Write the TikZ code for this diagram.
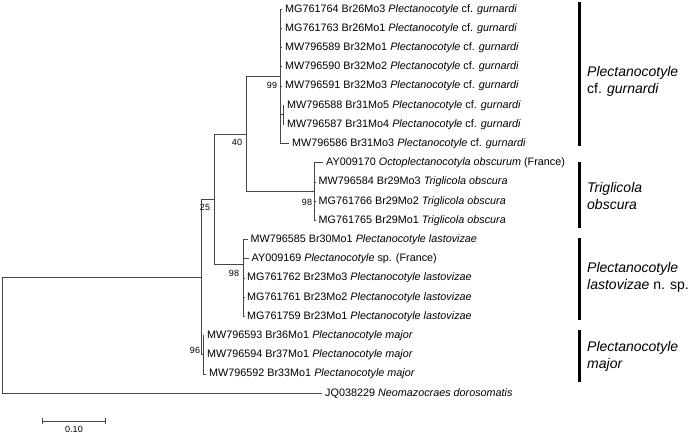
\documentclass[tikz,border=0pt]{standalone}
\usepackage{fontspec}
\setmainfont{Liberation Sans}
\definecolor{treegray}{RGB}{70,70,70}
\begin{document}
\begin{tikzpicture}[x=1pt,y=-1pt,
  br/.style={draw=treegray, line width=0.85pt},
  leaf/.style={anchor=west, inner xsep=3pt, inner ysep=0pt, font=\fontsize{10.8}{12}\selectfont},
  sup/.style={font=\fontsize{9}{10}\selectfont, inner sep=0pt},
  cbar/.style={line width=3pt, draw=black},
  clab/.style={anchor=west, align=left, inner sep=0pt, font=\fontsize{14}{17}\selectfont}]
\useasboundingbox (0,0) rectangle (688,435);

% internal nodes
\coordinate (root) at (2,335);
\coordinate (in) at (201,277);
\coordinate (n25) at (214,199);
\coordinate (n40) at (246,134.1);
\coordinate (ng) at (280,76.5);
\coordinate (ng2) at (283,114.9);
\coordinate (nt) at (314,191.7);
\coordinate (nl) at (243.7,264);
\coordinate (nm) at (203,354.9);

% leaves
\node[leaf] (l1) at (282,9.3) {MG761764 Br26Mo3 \textit{Plectanocotyle} cf. \textit{gurnardi}};
\node[leaf] (l2) at (282,28.5) {MG761763 Br26Mo1 \textit{Plectanocotyle} cf. \textit{gurnardi}};
\node[leaf] (l3) at (282,47.7) {MW796589 Br32Mo1 \textit{Plectanocotyle} cf. \textit{gurnardi}};
\node[leaf] (l4) at (282,66.9) {MW796590 Br32Mo2 \textit{Plectanocotyle} cf. \textit{gurnardi}};
\node[leaf] (l5) at (282,86.1) {MW796591 Br32Mo3 \textit{Plectanocotyle} cf. \textit{gurnardi}};
\node[leaf] (l6) at (284,105.3) {MW796588 Br31Mo5 \textit{Plectanocotyle} cf. \textit{gurnardi}};
\node[leaf] (l7) at (284,124.5) {MW796587 Br31Mo4 \textit{Plectanocotyle} cf. \textit{gurnardi}};
\node[leaf] (l8) at (289,143.7) {MW796586 Br31Mo3 \textit{Plectanocotyle} cf. \textit{gurnardi}};
\node[leaf] (l9) at (323,162.9) {AY009170 \textit{Octoplectanocotyla obscurum} (France)};
\node[leaf] (l10) at (315.5,182.1) {MW796584 Br29Mo3 \textit{Triglicola obscura}};
\node[leaf] (l11) at (315.5,201.3) {MG761766 Br29Mo2 \textit{Triglicola obscura}};
\node[leaf] (l12) at (315.5,220.5) {MG761765 Br29Mo1 \textit{Triglicola obscura}};
\node[leaf] (l13) at (247.5,239.7) {MW796585 Br30Mo1 \textit{Plectanocotyle lastovizae}};
\node[leaf] (l14) at (248.5,258.9) {AY009169 \textit{Plectanocotyle} sp. (France)};
\node[leaf] (l15) at (244,278.1) {MG761762 Br23Mo3 \textit{Plectanocotyle lastovizae}};
\node[leaf] (l16) at (244,297.3) {MG761761 Br23Mo2 \textit{Plectanocotyle lastovizae}};
\node[leaf] (l17) at (244,316.5) {MG761759 Br23Mo1 \textit{Plectanocotyle lastovizae}};
\node[leaf] (l18) at (204,335.7) {MW796593 Br36Mo1 \textit{Plectanocotyle major}};
\node[leaf] (l19) at (204,354.9) {MW796594 Br37Mo1 \textit{Plectanocotyle major}};
\node[leaf] (l20) at (206,374.1) {MW796592 Br33Mo1 \textit{Plectanocotyle major}};
\node[leaf] (l21) at (322,393.3) {JQ038229 \textit{Neomazocraes dorosomatis}};

% branches
\draw[br] (root) |- (in);
\draw[br] (root) |- (l21.west);
\draw[br] (in) |- (n25);
\draw[br] (in) |- (nm);
\draw[br] (n25) |- (n40);
\draw[br] (n25) |- (nl);
\draw[br] (n40) |- (ng);
\draw[br] (n40) |- (nt);
\foreach \i in {1,...,5} {\draw[br] (ng) |- (l\i.west);}
\draw[br] (ng) |- (ng2);
\draw[br] (ng) |- (l8.west);
\draw[br] (ng2) |- (l6.west);
\draw[br] (ng2) |- (l7.west);
\foreach \i in {9,...,12} {\draw[br] (nt) |- (l\i.west);}
\foreach \i in {13,...,17} {\draw[br] (nl) |- (l\i.west);}
\foreach \i in {18,...,20} {\draw[br] (nm) |- (l\i.west);}

% support values
\node[sup] (s99) at (272,85.5) {99};
\node[sup] (s40) at (237,142) {40};
\node[sup] (s98a) at (307,202) {98};
\node[sup] (s25) at (205,207) {25};
\node[sup] (s98b) at (234,273) {98};
\node[sup] (s96) at (195,350) {96};

% clade bars
\coordinate (g1) at (579,2);   \coordinate (g2) at (579,146);
\coordinate (t1) at (579,162); \coordinate (t2) at (579,228);
\coordinate (p1) at (579,238); \coordinate (p2) at (579,320);
\coordinate (m1) at (579,330); \coordinate (m2) at (579,382);
\draw[cbar] (g1) -- (g2);
\draw[cbar] (t1) -- (t2);
\draw[cbar] (p1) -- (p2);
\draw[cbar] (m1) -- (m2);
\node[clab] (cg) at (587,81) {\textit{Plectanocotyle}\\cf. \textit{gurnardi}};
\node[clab] (ct) at (587,196) {\textit{Triglicola}\\\textit{obscura}};
\node[clab] (cl) at (587,277) {\textit{Plectanocotyle}\\\textit{lastovizae} n. sp.};
\node[clab] (cm) at (587,356) {\textit{Plectanocotyle}\\\textit{major}};

% scale bar
\coordinate (sb1) at (42,421);
\coordinate (sb2) at (105,421);
\draw[br] (sb1) -- (sb2);
\draw[br] ([yshift=-3pt]sb1) -- ([yshift=3pt]sb1);
\draw[br] ([yshift=-3pt]sb2) -- ([yshift=3pt]sb2);
\node[sup] (sbl) at (74,429.5) {0.10};
\end{tikzpicture}
\end{document}
